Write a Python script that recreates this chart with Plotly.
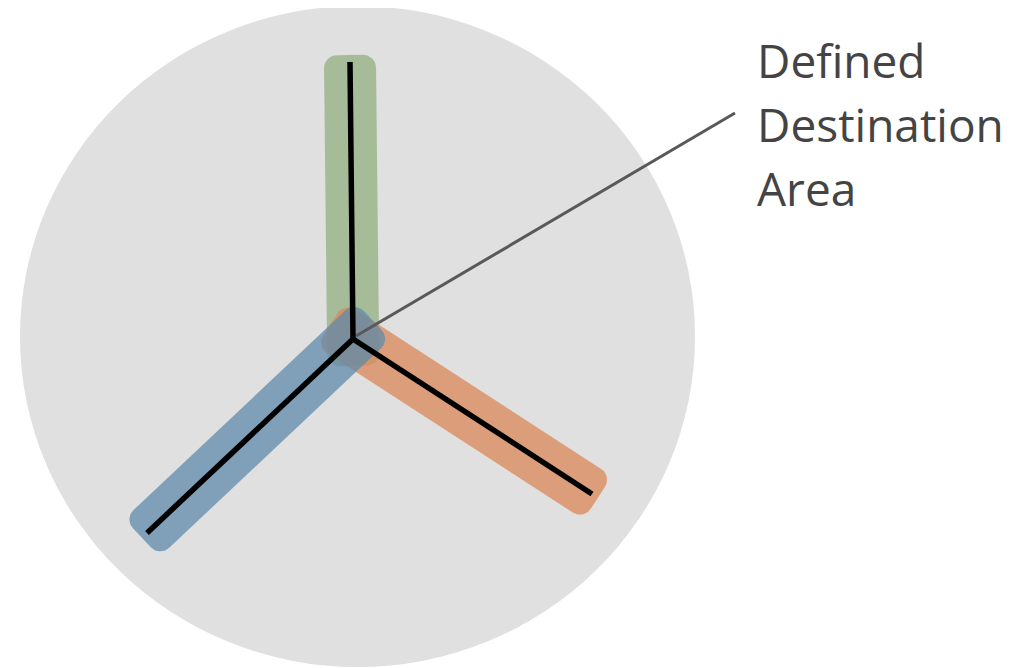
import numpy as np
import plotly.graph_objects as go

# ---- data (pixel-like coordinate space, y grows downward) ----
center = (353, 339)
arm_names = ["Green", "Orange", "Blue"]
arm_end_x = [350, 592, 147]
arm_end_y = [62, 494, 533]
band_colors = ["rgba(147,175,127,0.75)", "rgba(219,136,88,0.75)", "rgba(95,139,171,0.75)"]

area_x0, area_x1 = 20, 695
area_y0, area_y1 = 6, 667
leader_x = [356, 735]
leader_y = [336, 113]
label_lines = ["Defined", "Destination", "Area"]
label_y = [60, 124, 188]
label_x = 755

# page body margin offset (browser default 8px)
OFF = 8


def rounded_band(p0, p1, half_w, ext_back, ext_front, r, n=12):
    p0 = np.array(p0, float)
    p1 = np.array(p1, float)
    u = (p1 - p0) / np.linalg.norm(p1 - p0)
    v = np.array([-u[1], u[0]])
    start = p0 - ext_back * u
    L = np.linalg.norm(p1 - p0) + ext_back + ext_front
    pts = []
    corners = [((L - r, half_w - r), 0), ((r, half_w - r), 90),
               ((r, -half_w + r), 180), ((L - r, -half_w + r), 270)]
    for (cs, ct), a0 in corners:
        for a in np.linspace(np.radians(a0), np.radians(a0 + 90), n):
            pts.append((cs + r * np.cos(a), ct + r * np.sin(a)))
    pts.append(pts[0])
    xs = [start[0] + s * u[0] + t * v[0] for s, t in pts]
    ys = [start[1] + s * u[1] + t * v[1] for s, t in pts]
    return xs, ys


fig = go.Figure()

fig.add_shape(type="circle", xref="x", yref="y",
              x0=area_x0, x1=area_x1, y0=area_y0, y1=area_y1,
              fillcolor="#e0e0e0", line=dict(width=0), layer="below")

for name, ex, ey, col in zip(arm_names, arm_end_x, arm_end_y, band_colors):
    bx, by = rounded_band(center, (ex, ey), 26, 27, 7, 13)
    fig.add_trace(go.Scatter(x=bx, y=by, mode="lines", fill="toself",
                             fillcolor=col, line=dict(width=0),
                             hoverinfo="skip", showlegend=False, name=name))

fig.add_trace(go.Scatter(x=leader_x, y=leader_y, mode="lines",
                         line=dict(color="#595959", width=3),
                         hoverinfo="skip", showlegend=False))

for ex, ey in zip(arm_end_x, arm_end_y):
    fig.add_trace(go.Scatter(x=[center[0], ex], y=[center[1], ey], mode="lines",
                             line=dict(color="#000000", width=5.5),
                             hoverinfo="skip", showlegend=False))

for txt, ty in zip(label_lines, label_y):
    fig.add_annotation(x=label_x, y=ty, xref="x", yref="y", text=txt,
                       showarrow=False, xanchor="left", yanchor="middle",
                       font=dict(family="Open Sans", size=46, color="#444444"))

fig.update_layout(
    width=1018, height=668,
    margin=dict(l=0, r=0, t=0, b=0),
    paper_bgcolor="white", plot_bgcolor="white",
    xaxis=dict(range=[OFF, 1018 + OFF], visible=False, fixedrange=True),
    yaxis=dict(range=[668 + OFF, OFF], visible=False, fixedrange=True),
    showlegend=False,
)

fig.write_html("out.html")
